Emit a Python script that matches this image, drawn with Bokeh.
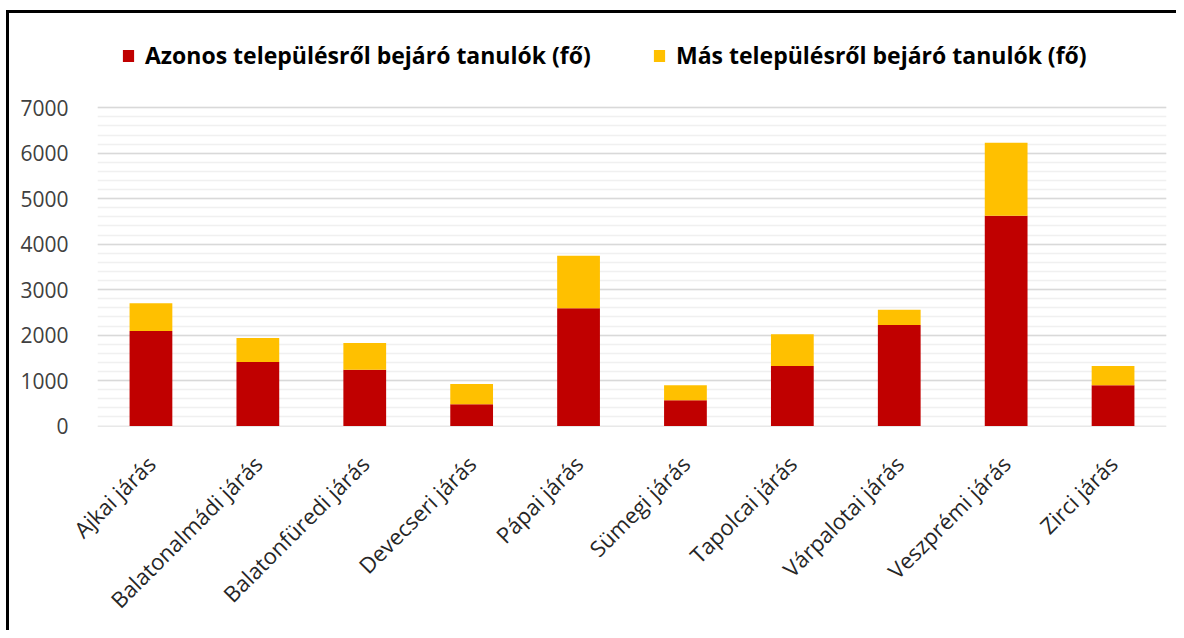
import math
from bokeh.plotting import figure
from bokeh.models import Range1d, FixedTicker, Legend, LegendItem, ColumnDataSource
from bokeh.embed import file_html
from bokeh.resources import INLINE

categories = ["Ajkai járás", "Balatonalmádi járás", "Balatonfüredi járás", "Devecseri járás",
              "Pápai járás", "Sümegi járás", "Tapolcai járás", "Várpalotai járás",
              "Veszprémi járás", "Zirci járás"]
azonos = [2090, 1410, 1240, 480, 2590, 565, 1320, 2220, 4625, 895]
mas = [610, 525, 585, 445, 1155, 330, 700, 340, 1605, 425]
series_names = ["Azonos településről bejáró tanulók (fő)", "Más településről bejáró tanulók (fő)"]
y_ticks = [0, 1000, 2000, 3000, 4000, 5000, 6000, 7000]
y_minor = list(range(0, 7001, 200))

src = ColumnDataSource(dict(cat=categories, azonos=azonos, mas=mas))

p = figure(width=1176, height=630, x_range=categories, y_range=Range1d(-10, 8700),
           output_backend="svg", toolbar_location=None,
           min_border_left=97, min_border_right=10, min_border_top=30, min_border_bottom=204)
p.border_fill_color = None
p.background_fill_color = "white"
p.outline_line_color = None
p.styles = {
    "background-color": "white",
    "background-image": "linear-gradient(#000000, #000000), linear-gradient(#000000, #000000)",
    "background-position": "6px 10px, 6px 10px",
    "background-size": "3px 100%, 100% 3px",
    "background-repeat": "no-repeat, no-repeat",
}

rs = p.vbar_stack(["azonos", "mas"], x="cat", width=0.4, source=src,
                  color=["#C00000", "#FFC000"], line_color=None)

p.yaxis.ticker = FixedTicker(ticks=y_ticks, minor_ticks=y_minor)
p.ygrid.grid_line_color = "#D9D9D9"
p.ygrid.grid_line_width = 1.6
p.ygrid.minor_grid_line_color = "#F0F0F0"
p.ygrid.minor_grid_line_width = 1.6
p.xgrid.grid_line_color = None

for ax in (p.xaxis, p.yaxis):
    ax.axis_line_color = None
    ax.major_tick_line_color = None
    ax.minor_tick_line_color = None

p.yaxis.major_label_text_font = "Open Sans"
p.yaxis.major_label_text_font_size = "21px"
p.yaxis.major_label_text_color = "#404040"
p.yaxis.major_label_standoff = 23

p.xaxis.major_label_text_font = "Open Sans"
p.xaxis.major_label_text_font_size = "22px"
p.xaxis.major_label_text_color = "#262626"
p.xaxis.major_label_orientation = math.pi / 4
p.xaxis.major_label_standoff = 27

legend = Legend(items=[LegendItem(label=series_names[0], renderers=[rs[0]]),
                       LegendItem(label=series_names[1], renderers=[rs[1]])],
                orientation="horizontal", location=(24, 355),
                padding=0, margin=0, spacing=45, label_standoff=10, label_width=462,
                glyph_width=14, glyph_height=15,
                background_fill_alpha=0, border_line_color=None,
                label_text_font="Open Sans", label_text_font_style="bold",
                label_text_font_size="23px", label_text_color="#000000")
p.add_layout(legend, "center")

open("out.html", "w").write(file_html(p, INLINE))
